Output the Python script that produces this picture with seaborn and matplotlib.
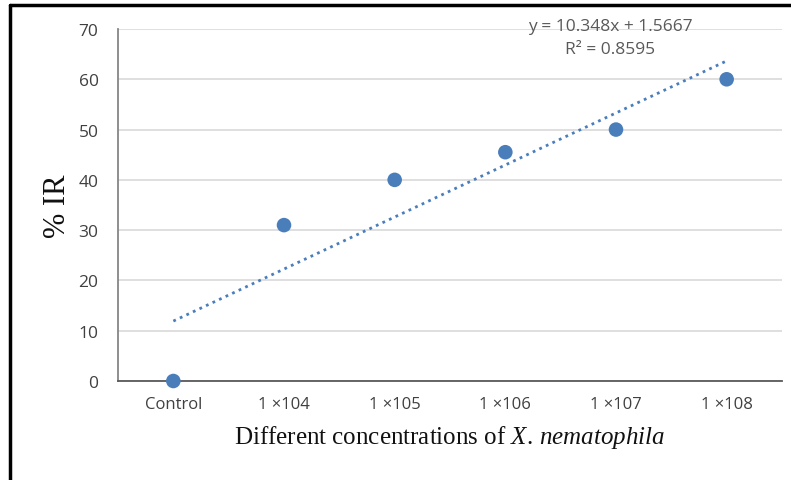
import matplotlib
matplotlib.use("Agg")
import matplotlib.pyplot as plt
from matplotlib.lines import Line2D
import numpy as np
import pandas as pd
import seaborn as sns

# Data
categories = ["Control", "1 \u00d7104", "1 \u00d7105", "1 \u00d7106", "1 \u00d7107", "1 \u00d7108"]
ir_values = [0, 31, 40, 45.5, 50, 60]
trend_slope = 10.348
trend_intercept = 1.5667
r_squared = 0.8595

sns.set_theme(style="white")
plt.rcParams["font.family"] = ["Open Sans", "DejaVu Sans"]
plt.rcParams["mathtext.fontset"] = "custom"
plt.rcParams["mathtext.it"] = "Liberation Serif:italic"
plt.rcParams["mathtext.rm"] = "Liberation Serif"

positions = np.arange(1, len(categories) + 1)
df = pd.DataFrame({"pos": positions, "ir": ir_values})
trend = pd.DataFrame({"pos": positions,
                      "fit": trend_slope * positions + trend_intercept})

fig = plt.figure(figsize=(7.91, 4.81), dpi=100)
ax = fig.add_axes([118 / 791, 1 - 382 / 481, (782 - 118) / 791, (382 - 30) / 481])

blue = "#4a7ebb"
sns.lineplot(data=trend, x="pos", y="fit", ax=ax, color=blue,
             linestyle=(0, (1, 1.6)), linewidth=2.0, zorder=2)
sns.scatterplot(data=df, x="pos", y="ir", ax=ax, color=blue, s=110,
                edgecolor="none", zorder=3, clip_on=False)

ax.set_xlim(0.5, 6.5)
ax.set_ylim(0, 70)
ax.set_yticks(range(0, 71, 10))
ax.set_xticks(positions)
ax.set_xticklabels(categories)
ax.yaxis.grid(True, color="#d9d9d9", linewidth=1.2)
ax.set_axisbelow(True)

for side in ["top", "right"]:
    ax.spines[side].set_visible(False)
ax.spines["left"].set_color("#868686")
ax.spines["left"].set_linewidth(1.3)
ax.spines["bottom"].set_color("#595959")
ax.spines["bottom"].set_linewidth(1.3)

ax.tick_params(axis="y", length=0, pad=14, labelsize=12.5, labelcolor="#404040")
ax.tick_params(axis="x", length=0, pad=11, labelsize=12, labelcolor="#404040")

ax.set_ylabel("% IR", family="Liberation Serif", fontsize=22, labelpad=5, color="#111111")
ax.set_xlabel("Different concentrations of $\\it{X.\\,nematophila}$",
              family="Liberation Serif", fontsize=18, labelpad=8, color="#111111")

eq_x = 610 / 791
fig.text(eq_x, 1 - 27 / 481, f"y = {trend_slope}x + {trend_intercept}",
         ha="center", va="center", fontsize=12.5, color="#595959")
fig.text(eq_x, 1 - 50 / 481, f"R\u00b2 = {r_squared}",
         ha="center", va="center", fontsize=12.5, color="#595959")

# Outer frame (left and top edges)
fig.add_artist(Line2D([10 / 791, 10 / 791], [0, 1 - 5.5 / 481],
                      transform=fig.transFigure, color="black", linewidth=2.5))
fig.add_artist(Line2D([10 / 791, 1], [1 - 5.5 / 481, 1 - 5.5 / 481],
                      transform=fig.transFigure, color="black", linewidth=2.5))

fig.savefig("out.png", dpi=100, facecolor="white")
